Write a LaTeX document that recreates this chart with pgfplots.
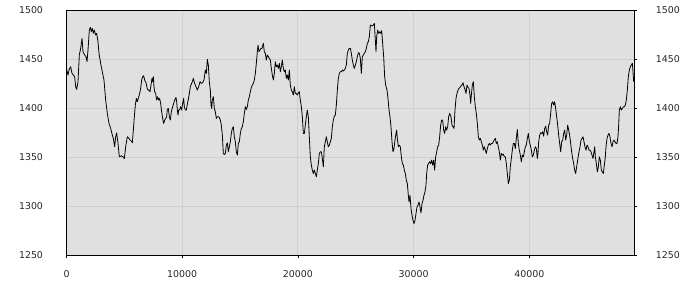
\documentclass[border=0pt]{standalone}
\usepackage{pgfplots}
\pgfplotsset{compat=1.18}
\usepackage{pgfplotstable}
\usepackage{fontspec}
\setmainfont{DejaVu Sans}
\definecolor{bgcol}{HTML}{E0E0E0}
\definecolor{gridcol}{HTML}{CFCFCF}
\pgfplotstableread{
x y
0 1440.5
130 1433.7
216 1438.8
360 1442.2
475 1435.4
591 1433.7
706 1432.0
792 1421.8
879 1419.1
994 1426.9
1109 1454.1
1225 1460.9
1340 1471.1
1426 1457.5
1570 1454.1
1685 1452.4
1772 1447.3
1858 1459.2
1974 1479.6
2060 1482.3
2146 1477.9
2233 1481.3
2319 1476.2
2406 1479.6
2521 1474.5
2607 1476.2
2723 1467.7
2809 1455.8
2953 1445.6
3097 1437.1
3241 1428.6
3385 1408.2
3529 1394.6
3673 1384.4
3817 1379.3
3961 1372.5
4048 1369.1
4163 1360.6
4250 1370.8
4336 1374.8
4451 1364.0
4566 1350.4
4739 1351.4
4883 1350.4
4999 1348.7
5114 1360.6
5258 1370.8
5402 1369.1
5459 1368.0
5603 1366.3
5690 1364.6
5776 1377.6
5863 1391.2
5949 1403.1
6036 1409.9
6122 1406.5
6208 1409.9
6324 1415.0
6410 1420.1
6497 1428.6
6583 1432.0
6669 1433.0
6756 1428.6
6871 1425.9
6986 1419.4
7102 1418.4
7217 1416.7
7303 1423.5
7390 1430.3
7447 1426.9
7505 1432.0
7562 1421.8
7620 1416.7
7706 1415.0
7793 1408.2
7879 1411.6
7966 1408.2
8052 1409.9
8138 1404.8
8225 1396.3
8311 1389.5
8398 1384.4
8484 1387.8
8571 1389.5
8657 1391.2
8715 1398.7
8801 1399.7
8888 1391.2
8974 1387.8
9060 1396.3
9176 1401.4
9262 1404.8
9349 1408.2
9464 1410.9
9521 1406.5
9579 1398.0
9637 1392.9
9694 1398.0
9781 1398.7
9867 1401.4
9953 1398.0
10040 1404.8
10126 1409.9
10184 1401.4
10270 1398.0
10357 1398.0
10443 1404.1
10530 1408.9
10616 1415.0
10702 1421.8
10789 1424.5
10875 1426.9
10962 1430.3
11077 1425.2
11193 1421.8
11308 1418.4
11423 1421.8
11538 1426.9
11654 1425.2
11769 1425.9
11884 1428.6
11999 1438.8
12086 1435.4
12172 1449.7
12259 1443.9
12345 1426.9
12432 1418.4
12489 1403.1
12547 1399.7
12604 1408.2
12691 1411.6
12777 1399.7
12864 1396.3
12950 1389.5
13037 1391.2
13123 1391.2
13209 1390.5
13296 1387.8
13382 1382.7
13469 1372.5
13555 1353.8
13642 1352.7
13728 1353.8
13815 1362.3
13901 1364.6
13987 1355.5
14074 1360.6
14160 1365.7
14247 1374.2
14333 1379.3
14419 1381.0
14506 1370.8
14592 1365.7
14679 1355.5
14765 1352.1
14852 1364.0
14938 1365.7
15024 1374.2
15111 1379.3
15197 1381.0
15284 1386.1
15370 1394.6
15457 1401.4
15543 1398.7
15629 1401.4
15716 1408.2
15802 1411.6
15889 1416.7
15975 1421.1
16062 1423.5
16148 1425.2
16234 1428.6
16321 1435.4
16407 1445.6
16494 1457.5
16551 1464.3
16637 1457.5
16724 1459.2
16810 1460.9
16897 1460.9
17012 1466.0
17098 1457.5
17185 1455.8
17271 1449.0
17358 1454.1
17444 1452.4
17531 1450.7
17617 1449.0
17704 1440.5
17790 1433.7
17876 1428.6
17963 1435.4
18049 1447.3
18136 1442.2
18222 1443.9
18309 1440.5
18395 1445.6
18481 1437.1
18568 1442.2
18654 1449.0
18741 1440.5
18827 1437.1
18913 1438.8
19000 1430.3
19086 1433.7
19173 1428.6
19259 1438.8
19346 1423.5
19432 1418.4
19518 1416.7
19605 1413.3
19691 1421.8
19778 1415.0
19864 1415.0
19951 1413.3
20037 1415.7
20123 1416.7
20210 1408.2
20296 1401.4
20383 1391.2
20469 1374.2
20556 1374.2
20642 1382.7
20728 1391.2
20815 1398.0
20901 1391.2
20988 1370.8
21074 1350.4
21161 1341.9
21247 1336.8
21334 1333.4
21420 1336.8
21506 1333.4
21593 1330.0
21679 1336.8
21766 1343.6
21852 1353.8
21938 1355.5
22025 1355.5
22112 1348.7
22198 1340.2
22285 1360.6
22371 1365.7
22457 1370.8
22544 1365.7
22630 1360.6
22717 1362.3
22803 1365.7
22890 1369.1
22976 1381.0
23062 1387.8
23149 1391.8
23235 1392.9
23322 1403.1
23408 1418.4
23495 1430.3
23581 1435.4
23667 1437.1
23754 1437.1
23840 1438.8
23927 1437.8
24013 1438.8
24100 1440.5
24186 1443.9
24272 1455.8
24359 1459.2
24445 1460.9
24532 1460.9
24618 1455.8
24704 1449.0
24791 1443.9
24877 1440.5
24964 1443.9
25050 1447.3
25137 1452.4
25223 1456.5
25310 1455.8
25396 1450.7
25482 1435.4
25569 1452.4
25655 1454.1
25742 1455.8
25828 1457.5
25914 1460.9
26001 1466.0
26087 1467.7
26174 1472.8
26260 1484.7
26347 1484.0
26433 1483.7
26520 1484.7
26606 1486.4
26692 1469.4
26750 1457.5
26808 1472.8
26894 1479.6
26981 1476.2
27067 1477.9
27153 1476.2
27240 1478.9
27326 1466.0
27413 1452.4
27499 1432.0
27586 1423.5
27701 1418.4
27787 1409.9
27874 1398.0
27960 1391.2
28046 1381.0
28133 1365.7
28219 1355.5
28306 1358.9
28392 1367.4
28479 1374.2
28536 1377.6
28594 1369.1
28680 1360.6
28767 1362.3
28853 1360.6
28940 1350.4
29026 1343.6
29112 1341.9
29199 1336.8
29285 1333.4
29372 1326.5
29458 1323.1
29544 1311.2
29602 1304.4
29689 1311.2
29775 1297.6
29861 1290.8
29948 1285.7
30034 1282.3
30121 1285.7
30207 1292.5
30293 1299.3
30380 1301.0
30466 1304.4
30553 1299.3
30639 1293.2
30725 1302.7
30812 1306.1
30898 1311.2
30985 1314.6
31071 1321.4
31129 1333.4
31215 1341.9
31302 1343.6
31388 1345.3
31475 1343.6
31561 1347.0
31647 1341.9
31734 1347.0
31820 1336.8
31907 1350.4
31993 1355.5
32080 1360.6
32166 1362.3
32252 1370.8
32339 1382.7
32425 1387.8
32512 1387.8
32598 1377.6
32684 1374.2
32771 1381.0
32857 1377.6
32944 1381.0
33030 1391.2
33117 1394.6
33232 1391.2
33319 1382.7
33405 1381.0
33492 1379.3
33578 1398.0
33664 1409.9
33751 1415.0
33837 1418.4
33924 1420.1
34010 1421.1
34097 1422.5
34183 1423.5
34269 1425.9
34356 1421.8
34442 1419.1
34529 1415.0
34615 1423.5
34702 1421.1
34788 1420.1
34874 1413.3
34932 1404.8
34990 1413.3
35076 1423.5
35163 1426.9
35249 1411.6
35335 1401.4
35422 1394.6
35508 1384.4
35595 1370.8
35681 1367.4
35768 1369.1
35854 1365.7
35940 1362.3
36027 1357.2
36113 1360.6
36200 1357.2
36286 1353.8
36372 1358.9
36459 1362.3
36545 1364.0
36632 1362.3
36718 1364.0
36805 1364.0
36891 1365.7
36977 1367.4
37064 1369.1
37150 1364.0
37237 1365.7
37323 1360.6
37410 1355.5
37496 1347.0
37582 1353.8
37669 1352.1
37755 1353.1
37842 1350.4
37928 1350.4
38015 1343.6
38101 1333.4
38187 1323.1
38274 1326.5
38360 1340.2
38447 1348.7
38533 1357.2
38620 1364.0
38706 1364.0
38793 1358.9
38879 1369.1
38966 1378.2
39052 1364.0
39138 1357.2
39225 1352.1
39311 1345.3
39398 1352.1
39484 1350.4
39571 1355.5
39657 1360.6
39743 1362.3
39830 1369.1
39916 1374.2
40003 1365.7
40089 1362.3
40176 1357.2
40262 1350.4
40348 1352.1
40435 1357.2
40521 1360.6
40608 1358.9
40694 1348.7
40752 1353.8
40810 1365.7
40896 1372.5
40982 1374.8
41069 1374.2
41155 1375.9
41242 1371.4
41328 1379.3
41415 1381.6
41501 1375.9
41587 1372.5
41674 1382.7
41760 1384.4
41847 1394.6
41933 1404.8
42020 1406.5
42106 1403.1
42192 1406.5
42279 1399.7
42365 1391.2
42452 1382.7
42538 1372.5
42624 1364.0
42711 1355.5
42797 1365.7
42884 1367.4
42970 1374.2
43057 1377.6
43143 1367.4
43229 1372.5
43316 1382.7
43402 1377.6
43489 1372.5
43575 1364.0
43662 1355.5
43748 1348.7
43834 1343.6
43921 1336.8
44007 1333.4
44094 1340.2
44180 1347.0
44295 1355.5
44382 1360.6
44468 1367.4
44555 1369.1
44641 1370.8
44727 1365.7
44814 1360.6
44900 1357.2
44987 1362.3
45073 1360.6
45160 1357.2
45246 1357.2
45332 1355.5
45419 1352.1
45505 1348.7
45592 1355.5
45649 1360.6
45707 1350.4
45793 1343.6
45880 1335.0
45966 1340.2
46053 1350.4
46139 1347.0
46226 1336.8
46312 1335.0
46398 1333.4
46485 1341.9
46571 1350.4
46629 1360.6
46715 1369.1
46802 1372.5
46888 1374.2
46975 1370.8
47061 1364.0
47147 1360.6
47234 1365.7
47320 1367.4
47407 1365.7
47493 1364.0
47580 1364.0
47666 1370.8
47724 1382.7
47781 1398.0
47868 1401.4
47954 1398.0
48041 1399.7
48127 1401.4
48213 1401.4
48300 1403.1
48386 1408.2
48473 1418.4
48559 1432.0
48646 1438.8
48732 1442.2
48818 1443.9
48905 1445.6
48963 1437.1
49020 1426.9
}\series

\begin{document}
\begin{tikzpicture}
\useasboundingbox (0,0) rectangle (700pt,300pt);
\begin{axis}[
  at={(66.5pt,44.7pt)}, anchor=south west,
  scale only axis, width=567.8pt, height=245.3pt,
  xmin=0, xmax=49075, ymin=1250, ymax=1500,
  scaled x ticks=false, scaled y ticks=false,
  axis background/.style={fill=bgcol},
  axis line style={black, line width=1pt},
  grid=major, major grid style={gridcol, line width=1pt},
  xtick={0,10000,20000,30000,40000},
  xticklabels={0,10000,20000,30000,40000},
  ytick={1250,1300,1350,1400,1450,1500},
  yticklabels={1250,1300,1350,1400,1450,1500},
  xtick pos=bottom, xtick align=outside,
  ytick pos=left,
  ytick style={draw=none},
  xtick style={black, line width=0.8pt},
  major tick length=3pt,
  tick label style={font=\fontsize{9.4}{11}\selectfont, text=black!85},
  xticklabel style={yshift=-9pt},
  yticklabel style={xshift=-20pt},
  /pgf/number format/assume math mode=true,
]
\addplot[black, line width=0.8pt, line join=round] table[x=x, y=y] {\series};
\end{axis}
\begin{axis}[
  at={(66.5pt,44.7pt)}, anchor=south west,
  scale only axis, width=567.8pt, height=245.3pt,
  xmin=0, xmax=49075, ymin=1250, ymax=1500,
  scaled x ticks=false, scaled y ticks=false,
  hide x axis,
  axis y line*=right,
  axis line style={black, line width=1pt},
  ytick={1250,1300,1350,1400,1450,1500},
  yticklabels={1250,1300,1350,1400,1450,1500},
  ytick align=outside,
  major tick length=3pt,
  ytick style={black, line width=0.8pt},
  tick label style={font=\fontsize{9.4}{11}\selectfont, text=black!85},
  yticklabel style={xshift=15pt},
]
\end{axis}
\end{tikzpicture}
\end{document}
